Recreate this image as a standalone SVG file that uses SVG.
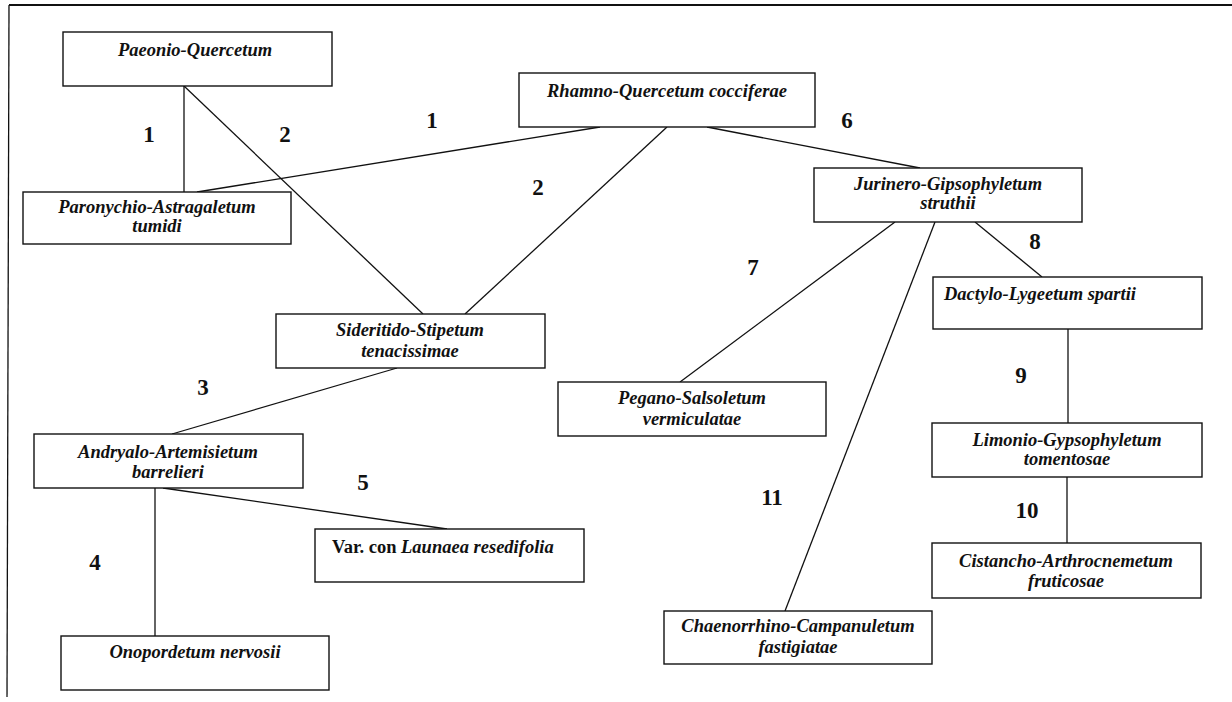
<svg xmlns="http://www.w3.org/2000/svg" width="1232" height="702" viewBox="0 0 1232 702">
<style>
  .box { fill: #ffffff; stroke: #111111; stroke-width: 1.4; }
  .edge { stroke: #111111; stroke-width: 1.3; fill: none; }
  .frame { stroke: #111111; fill: none; }
  .t { font-family: "Liberation Serif", "Times New Roman", serif; font-size: 18.5px; font-weight: bold; font-style: italic; fill: #111111; text-anchor: middle; }
  .up { font-style: normal; }
  .num { font-family: "Liberation Serif", "Times New Roman", serif; font-size: 23px; font-weight: bold; fill: #111111; text-anchor: middle; }
</style>
<rect width="1232" height="702" fill="#ffffff"/>
<g id="frame">
  <line class="frame" x1="9" y1="5" x2="1232" y2="5" stroke-width="2"/>
  <line class="frame" x1="9" y1="5" x2="7" y2="697" stroke-width="1.3"/>
</g>
<g id="connectors">
  <line class="edge" x1="184" y1="86" x2="184" y2="192"/>
  <line class="edge" x1="184" y1="86" x2="423" y2="314"/>
  <line class="edge" x1="600" y1="127" x2="197" y2="192"/>
  <line class="edge" x1="667" y1="127" x2="465" y2="314"/>
  <line class="edge" x1="707" y1="127" x2="920" y2="168"/>
  <line class="edge" x1="397" y1="368" x2="172" y2="434"/>
  <line class="edge" x1="155" y1="488" x2="155" y2="636"/>
  <line class="edge" x1="163" y1="488" x2="447" y2="529"/>
  <line class="edge" x1="895" y1="222" x2="680" y2="382"/>
  <line class="edge" x1="935" y1="222" x2="785" y2="611"/>
  <line class="edge" x1="975" y1="222" x2="1042" y2="277"/>
  <line class="edge" x1="1068" y1="329" x2="1068" y2="423"/>
  <line class="edge" x1="1067" y1="477" x2="1067" y2="543"/>
</g>
<g id="labels">
  <text class="num" x="149" y="142">1</text>
  <text class="num" x="285" y="142">2</text>
  <text class="num" x="432" y="128">1</text>
  <text class="num" x="538" y="195">2</text>
  <text class="num" x="847" y="128">6</text>
  <text class="num" x="753" y="275">7</text>
  <text class="num" x="1035" y="249">8</text>
  <text class="num" x="203" y="395">3</text>
  <text class="num" x="363" y="490">5</text>
  <text class="num" x="95" y="570">4</text>
  <text class="num" x="772" y="505">11</text>
  <text class="num" x="1021" y="383">9</text>
  <text class="num" x="1027" y="518">10</text>
</g>
<g id="paeonio">
  <rect class="box" x="63" y="32" width="269" height="54"/>
  <text class="t" x="195" y="56">Paeonio-Quercetum</text>
</g>
<g id="rhamno">
  <rect class="box" x="519" y="73" width="296" height="54"/>
  <text class="t" x="667" y="97">Rhamno-Quercetum cocciferae</text>
</g>
<g id="paronychio">
  <rect class="box" x="23" y="192" width="268" height="52"/>
  <text class="t" x="157" y="213">Paronychio-Astragaletum</text>
  <text class="t" x="157" y="232">tumidi</text>
</g>
<g id="jurinero">
  <rect class="box" x="814" y="168" width="268" height="54"/>
  <text class="t" x="948" y="190">Jurinero-Gipsophyletum</text>
  <text class="t" x="948" y="209">struthii</text>
</g>
<g id="sideritido">
  <rect class="box" x="276" y="314" width="269" height="54"/>
  <text class="t" x="410" y="336">Sideritido-Stipetum</text>
  <text class="t" x="410" y="357">tenacissimae</text>
</g>
<g id="andryalo">
  <rect class="box" x="34" y="434" width="269" height="54"/>
  <text class="t" x="168" y="458">Andryalo-Artemisietum</text>
  <text class="t" x="168" y="478">barrelieri</text>
</g>
<g id="var-launaea">
  <rect class="box" x="315" y="529" width="269" height="53"/>
  <text class="t" x="332" y="553" style="text-anchor:start"><tspan class="up">Var. con </tspan>Launaea resedifolia</text>
</g>
<g id="onopordetum">
  <rect class="box" x="61" y="636" width="268" height="54"/>
  <text class="t" x="195" y="658">Onopordetum nervosii</text>
</g>
<g id="pegano">
  <rect class="box" x="558" y="382" width="268" height="54"/>
  <text class="t" x="692" y="404">Pegano-Salsoletum</text>
  <text class="t" x="692" y="425">vermiculatae</text>
</g>
<g id="chaenorrhino">
  <rect class="box" x="664" y="611" width="268" height="53"/>
  <text class="t" x="798" y="632">Chaenorrhino-Campanuletum</text>
  <text class="t" x="798" y="653">fastigiatae</text>
</g>
<g id="dactylo">
  <rect class="box" x="933" y="277" width="269" height="52"/>
  <text class="t" x="944" y="300" style="text-anchor:start">Dactylo-Lygeetum spartii</text>
</g>
<g id="limonio">
  <rect class="box" x="932" y="423" width="270" height="54"/>
  <text class="t" x="1067" y="446">Limonio-Gypsophyletum</text>
  <text class="t" x="1067" y="465">tomentosae</text>
</g>
<g id="cistancho">
  <rect class="box" x="932" y="543" width="269" height="55"/>
  <text class="t" x="1066" y="567">Cistancho-Arthrocnemetum</text>
  <text class="t" x="1066" y="587">fruticosae</text>
</g>
</svg>
